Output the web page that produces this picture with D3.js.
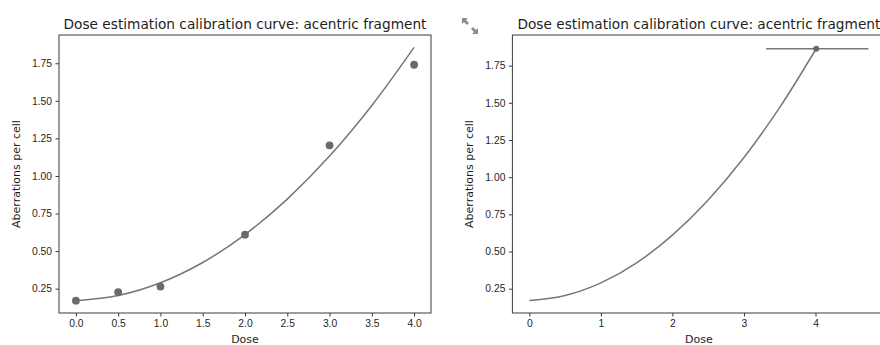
<!DOCTYPE html>
<html>
<head>
<meta charset="utf-8">
<script src="https://cdn.jsdelivr.net/npm/d3@7"></script>
<style>
  html, body { margin: 0; padding: 0; background: #fff; }
  svg { display: block; font-family: "DejaVu Sans", sans-serif; }
  .tick text { fill: #262626; font-size: 10.3px; }
  .tick line, .domain { stroke: #3a3a3a; }
</style>
</head>
<body>
<svg id="chart" width="880" height="345"></svg>
<script>
// Calibration measurements: dose (Gy) and acentric fragments per cell
const doses = [0.0, 0.5, 1.0, 2.0, 3.0, 4.0];
const yields = [0.17, 0.226, 0.264, 0.609, 1.204, 1.74];

// Fitted calibration curve, sampled along dose
const curveDoses = [0.0, 0.5, 1.0, 1.5, 2.0, 2.5, 3.0, 3.5, 4.0];
const curveYields = [0.170, 0.204, 0.289, 0.424, 0.610, 0.846, 1.132, 1.469, 1.856];

// Dose estimate for the observed yield, with its dose interval
const estDose = [4.01];
const estYield = [1.864];
const estLow = [3.31];
const estHigh = [4.74];

const leftTicksX = [0, 0.5, 1, 1.5, 2, 2.5, 3, 3.5, 4];
const rightTicksX = [0, 1, 2, 3, 4];
const ticksY = [0.25, 0.5, 0.75, 1.0, 1.25, 1.5, 1.75];

const svg = d3.select("#chart");
const title = "Dose estimation calibration curve: acentric fragment";
const grey = "#6a6a6a";

function panel(opts) {
  const g = svg.append("g");
  const x = d3.scaleLinear().domain(opts.xDomain).range(opts.xRange);
  const y = d3.scaleLinear().domain(opts.yDomain).range([313, 35]);

  g.append("g")
    .attr("transform", "translate(0,313)")
    .call(d3.axisBottom(x).tickValues(opts.xTicks).tickFormat(opts.xFormat).tickSize(3.5).tickPadding(3.5))
    .call(a => a.select(".domain").remove());
  g.append("g")
    .attr("transform", `translate(${opts.xRange[0]},0)`)
    .call(d3.axisLeft(y).tickValues(ticksY).tickFormat(d3.format(".2f")).tickSize(3.5).tickPadding(3.5))
    .call(a => a.select(".domain").remove());

  g.append("rect")
    .attr("x", opts.xRange[0]).attr("y", 35)
    .attr("width", opts.xRange[1] - opts.xRange[0]).attr("height", 278)
    .attr("fill", "none").attr("stroke", "#3a3a3a").attr("stroke-width", 1);

  const cx = (opts.xRange[0] + opts.xRange[1]) / 2;
  g.append("text")
    .attr("x", cx).attr("y", 28.5)
    .attr("text-anchor", "middle")
    .attr("font-size", 13.7).attr("fill", "#1e1e1e")
    .text(title);
  g.append("text")
    .attr("x", cx).attr("y", 342.5)
    .attr("text-anchor", "middle")
    .attr("font-size", 11).attr("fill", "#1e1e1e")
    .text("Dose");
  g.append("text")
    .attr("transform", `translate(${opts.yLabelX},174) rotate(-90)`)
    .attr("text-anchor", "middle")
    .attr("font-size", 11).attr("fill", "#1e1e1e")
    .text("Aberrations per cell");

  return { g, x, y };
}

const line = (sx, sy) => d3.line().x(d => sx(d[0])).y(d => sy(d[1])).curve(d3.curveMonotoneX);

// Left: calibration data with fitted curve
const L = panel({
  xDomain: [-0.2, 4.2], xRange: [59, 431],
  yDomain: [0.088, 1.938],
  xTicks: leftTicksX, xFormat: d3.format(".1f"),
  yLabelX: 20
});
L.g.append("path")
  .datum(curveDoses.map((d, i) => [d, curveYields[i]]))
  .attr("d", line(L.x, L.y))
  .attr("fill", "none").attr("stroke", "#777").attr("stroke-width", 1.5);
L.g.selectAll("circle.obs")
  .data(doses.map((d, i) => [d, yields[i]]))
  .join("circle")
  .attr("class", "obs")
  .attr("cx", d => L.x(d[0])).attr("cy", d => L.y(d[1]))
  .attr("r", 3.9).attr("fill", grey);

// Right: dose estimate
const R = panel({
  xDomain: [-0.237, 4.977], xRange: [512.4, 885.4],
  yDomain: [0.0866, 1.956],
  xTicks: rightTicksX, xFormat: d3.format("d"),
  yLabelX: 473
});
const rightCurve = curveDoses.map((d, i) => [d, curveYields[i]]).filter(d => d[0] < 4.0);
rightCurve.push([estDose[0], estYield[0]]);
R.g.append("path")
  .datum(rightCurve)
  .attr("d", line(R.x, R.y))
  .attr("fill", "none").attr("stroke", "#777").attr("stroke-width", 1.5);
R.g.append("line")
  .attr("x1", R.x(estLow[0])).attr("x2", R.x(estHigh[0]))
  .attr("y1", R.y(estYield[0])).attr("y2", R.y(estYield[0]))
  .attr("stroke", "#777").attr("stroke-width", 1.5);
R.g.append("circle")
  .attr("cx", R.x(estDose[0])).attr("cy", R.y(estYield[0]))
  .attr("r", 3).attr("fill", grey);

// Expand icon between the two panels
const icon = svg.append("g").attr("transform", "translate(470,26)").attr("fill", "#8c8c8c");
icon.append("path").attr("d", "M-8,-8 L-2,-8 L-4,-6 L-1,-3 L-3,-1 L-6,-4 L-8,-2 Z");
icon.append("path").attr("d", "M8,8 L2,8 L4,6 L1,3 L3,1 L6,4 L8,2 Z");
</script>
</body>
</html>
